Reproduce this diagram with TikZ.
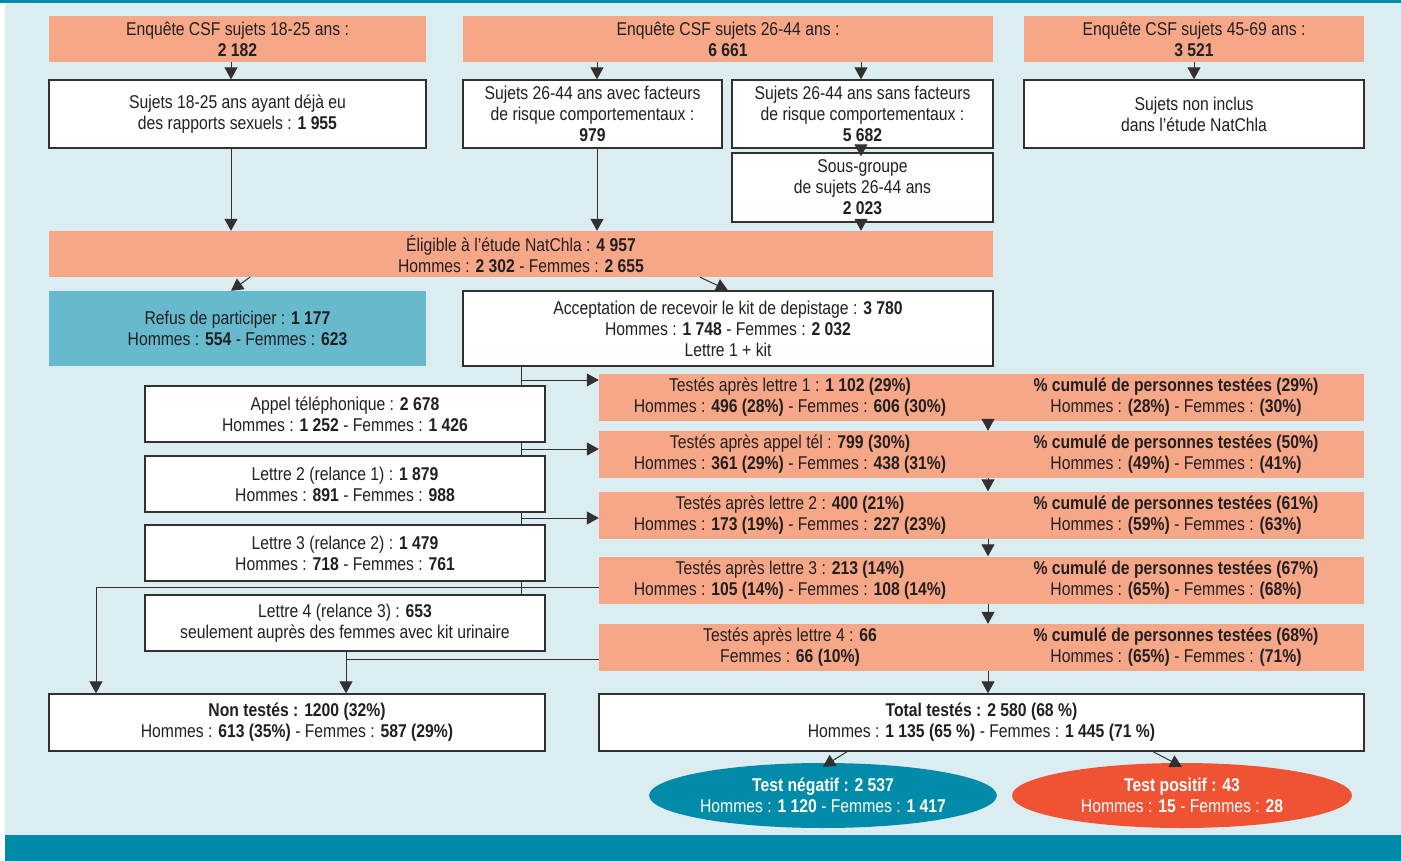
\documentclass[tikz,border=0pt]{standalone}
\usepackage{fontspec}
\setmainfont{Liberation Sans}[FakeStretch=0.85]
\usetikzlibrary{arrows.meta,shapes.geometric}
\tikzset{%%
  >={Triangle[length=12pt,width=13pt]}
  }
\definecolor{myTeal}{RGB}{0,140,168}
\definecolor{myBack}{RGB}{220,237,242}
\definecolor{mySalmon}{RGB}{246,167,136}
\definecolor{myBlue}{RGB}{103,185,206}
\definecolor{myRed}{RGB}{239,83,51}
\definecolor{myGray}{RGB}{50,48,49}
\definecolor{myText}{RGB}{35,31,32}

\begin{document}
\begin{tikzpicture}[x=1pt,y=-1pt,
  every node/.style={font=\fontsize{18.5}{21}\selectfont, text=myText, align=center, inner sep=0pt},
  salmonbox/.style={fill=mySalmon},
  whitebox/.style={fill=white, draw=myGray, line width=1.3pt},
  oval/.style={ellipse, fill=#1, text=white},
  link/.style={draw=myGray, line width=1pt},
  arr/.style={link, ->}]
  \useasboundingbox (0,0) rectangle (1401,861);
  % background and bars
  \fill[white] (0,0) rectangle (1401,861);
  \fill[myTeal] (0,0) rectangle (1401,3);
  \fill[myBack] (5,3) rectangle (1401,835);
  \fill[myTeal] (5,835) rectangle (1401,861);

  % surveys
  \node[salmonbox, minimum width=377, minimum height=46] (csfA) at (237.5,39) {Enquête CSF sujets 18-25 ans :\\\textbf{2 182}};
  \node[salmonbox, minimum width=530, minimum height=46] (csfB) at (728,39) {Enquête CSF sujets 26-44 ans :\\\textbf{6 661}};
  \node[salmonbox, minimum width=340, minimum height=46] (csfC) at (1194,39) {Enquête CSF sujets 45-69 ans :\\\textbf{3 521}};

  \node[whitebox, minimum width=377, minimum height=68] (sujA) at (237.5,114) {Sujets 18-25 ans ayant déjà eu\\des rapports sexuels : \textbf{1 955}};
  \node[whitebox, minimum width=259, minimum height=68] (sujB) at (592.5,114) {Sujets 26-44 ans avec facteurs\\de risque comportementaux :\\\textbf{979}};
  \node[whitebox, minimum width=261, minimum height=68] (sujC) at (862.5,114) {Sujets 26-44 ans sans facteurs\\de risque comportementaux :\\\textbf{5 682}};
  \node[whitebox, minimum width=340, minimum height=68] (sujD) at (1194,114) {Sujets non inclus\\dans l’étude NatChla};
  \node[whitebox, minimum width=261, minimum height=69] (sousgroupe) at (862.5,187.5) {Sous-groupe\\de sujets 26-44 ans\\\textbf{2 023}};

  \node[salmonbox, minimum width=944, minimum height=46] (eligible) at (521,254) {Éligible à l’étude NatChla : \textbf{4 957}\\Hommes : \textbf{2 302} - Femmes : \textbf{2 655}};

  \node[fill=myBlue, minimum width=377, minimum height=75] (refus) at (237.5,328.5) {Refus de participer : \textbf{1 177}\\Hommes : \textbf{554} - Femmes : \textbf{623}};
  \node[whitebox, minimum width=530, minimum height=75] (accept) at (728,328.5) {Acceptation de recevoir le kit de depistage : \textbf{3 780}\\Hommes : \textbf{1 748} - Femmes : \textbf{2 032}\\Lettre 1 + kit};

  % reminders
  \node[whitebox, minimum width=400, minimum height=56] (appel) at (345,414) {Appel téléphonique : \textbf{2 678}\\Hommes : \textbf{1 252} - Femmes : \textbf{1 426}};
  \node[whitebox, minimum width=400, minimum height=56] (lettreB) at (345,484) {Lettre 2 (relance 1) : \textbf{1 879}\\Hommes : \textbf{891} - Femmes : \textbf{988}};
  \node[whitebox, minimum width=400, minimum height=56] (lettreC) at (345,553) {Lettre 3 (relance 2) : \textbf{1 479}\\Hommes : \textbf{718} - Femmes : \textbf{761}};
  \node[whitebox, minimum width=400, minimum height=56] (lettreD) at (345,623) {Lettre 4 (relance 3) : \textbf{653}\\seulement auprès des femmes avec kit urinaire};

  % tested
  \node[salmonbox, minimum width=765, minimum height=47] (testA) at (981.5,397.5) {};
  \node (testAl) at (790,397.5) {Testés après lettre 1 : \textbf{1 102 (29\%)}\\Hommes : \textbf{496 (28\%)} - Femmes : \textbf{606 (30\%)}};
  \node (testAr) at (1176,397.5) {\textbf{\% cumulé de personnes testées (29\%)}\\Hommes : \textbf{(28\%)} - Femmes : \textbf{(30\%)}};
  \node[salmonbox, minimum width=765, minimum height=47] (testB) at (981.5,454.5) {};
  \node (testBl) at (790,454.5) {Testés après appel tél : \textbf{799 (30\%)}\\Hommes : \textbf{361 (29\%)} - Femmes : \textbf{438 (31\%)}};
  \node (testBr) at (1176,454.5) {\textbf{\% cumulé de personnes testées (50\%)}\\Hommes : \textbf{(49\%)} - Femmes : \textbf{(41\%)}};
  \node[salmonbox, minimum width=765, minimum height=47] (testC) at (981.5,515) {};
  \node (testCl) at (790,515) {Testés après lettre 2 : \textbf{400 (21\%)}\\Hommes : \textbf{173 (19\%)} - Femmes : \textbf{227 (23\%)}};
  \node (testCr) at (1176,515) {\textbf{\% cumulé de personnes testées (61\%)}\\Hommes : \textbf{(59\%)} - Femmes : \textbf{(63\%)}};
  \node[salmonbox, minimum width=765, minimum height=47] (testD) at (981.5,580) {};
  \node (testDl) at (790,580) {Testés après lettre 3 : \textbf{213 (14\%)}\\Hommes : \textbf{105 (14\%)} - Femmes : \textbf{108 (14\%)}};
  \node (testDr) at (1176,580) {\textbf{\% cumulé de personnes testées (67\%)}\\Hommes : \textbf{(65\%)} - Femmes : \textbf{(68\%)}};
  \node[salmonbox, minimum width=765, minimum height=47] (testE) at (981.5,647.5) {};
  \node (testEl) at (790,647.5) {Testés après lettre 4 : \textbf{66}\\Femmes : \textbf{66 (10\%)}};
  \node (testEr) at (1176,647.5) {\textbf{\% cumulé de personnes testées (68\%)}\\Hommes : \textbf{(65\%)} - Femmes : \textbf{(71\%)}};

  % results
  \node[whitebox, minimum width=496, minimum height=57] (nontest) at (297,722.5) {\textbf{Non testés : 1200 (32\%)}\\Hommes : \textbf{613 (35\%)} - Femmes : \textbf{587 (29\%)}};
  \node[whitebox, minimum width=765, minimum height=57] (total) at (981.5,722.5) {\textbf{Total testés : 2 580 (68 \%)}\\Hommes : \textbf{1 135 (65 \%)} - Femmes : \textbf{1 445 (71 \%)}};
  \node[oval=myTeal, minimum width=342, minimum height=65] (negatif) at (823,795.5) {\textbf{Test négatif : 2 537}\\Hommes : \textbf{1 120} - Femmes : \textbf{1 417}};
  \node[oval=myRed, minimum width=340, minimum height=65] (positif) at (1182,795.5) {\textbf{Test positif : 43}\\Hommes : \textbf{15} - Femmes : \textbf{28}};

  % connectors
  \draw[arr] (csfA.south -| 231,0) -- (sujA.north -| 231,0);
  \draw[arr] (csfB.south -| 597,0) -- (sujB.north -| 597,0);
  \draw[arr] (csfB.south -| 861,0) -- (sujC.north -| 861,0);
  \draw[arr] (csfC.south) -- (sujD.north);
  \draw[arr] (sujC.south -| 861,0) -- ([yshift=-4pt]sousgroupe.north -| 861,0);
  \draw[arr] (sujA.south -| 231,0) -- (eligible.north -| 231,0);
  \draw[arr] (sujB.south -| 597,0) -- (eligible.north -| 597,0);
  \draw[arr] (sousgroupe.south -| 861,0) -- (eligible.north -| 861,0);
  \draw[arr] (eligible.south -| 250,0) -- (refus.north -| 231,0);
  \draw[arr] (eligible.south -| 700,0) -- (accept.north);

  \coordinate (spine) at (521,0);
  \draw[link] (accept.south -| spine) -- (appel.north -| spine);
  \draw[link] (appel.south -| spine) -- (lettreB.north -| spine);
  \draw[link] (lettreB.south -| spine) -- (lettreC.north -| spine);
  \draw[link] (lettreC.south -| spine) -- (lettreD.north -| spine);
  \coordinate (brA) at (521,380);
  \coordinate (brB) at (521,449);
  \coordinate (brC) at (521,518);
  \draw[arr] (brA) -- (brA -| testA.west);
  \draw[arr] (brB) -- (brB -| testB.west);
  \draw[arr] (brC) -- (brC -| testC.west);
  \coordinate (brD) at (96,587);
  \coordinate (brE) at (346,659);
  \draw[arr] (brD -| testD.west) -- (brD) -- (brD |- nontest.north);
  \draw[link] (brE -| testE.west) -- (brE);
  \draw[arr] (lettreD.south -| brE) -- (brE |- nontest.north);

  \coordinate (colT) at (988,0);
  \draw[arr] (testA.south -| colT) -- (testB.north -| colT);
  \draw[arr] (testB.south -| colT) -- (testC.north -| colT);
  \draw[arr] (testC.south -| colT) -- (testD.north -| colT);
  \draw[arr] (testD.south -| colT) -- (testE.north -| colT);
  \draw[arr] (testE.south -| colT) -- (total.north -| colT);
  \draw[arr] (total.south -| 847,0) -- ([yshift=-4pt]negatif.north);
  \draw[arr] (total.south -| 1153,0) -- ([yshift=-4pt]positif.north);
\end{tikzpicture}
\end{document}
